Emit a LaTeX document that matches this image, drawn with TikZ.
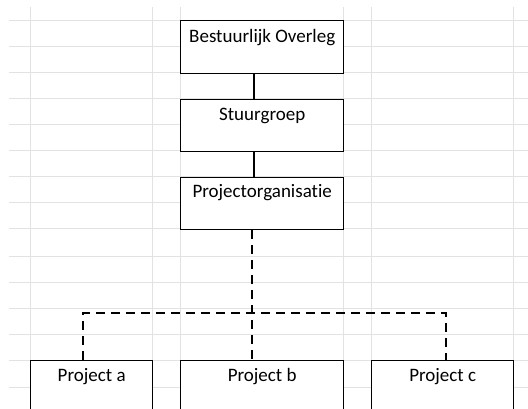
\documentclass[tikz,border=0pt]{standalone}
\usepackage{fontspec}
\setmainfont{Carlito}[Ligatures={NoCommon,NoRequired,NoContextual}]
\begin{document}
\begin{tikzpicture}[x=1pt,y=-1pt,
  grid/.style={draw=gridgray, line width=1pt},
  orgbox/.style={draw=black, fill=white, line width=1.4pt, rectangle, inner sep=0pt,
     text height=#1, font=\fontsize{19}{21}\selectfont},
  solidconn/.style={draw=black, line width=2.4pt},
  dashconn/.style={draw=black, line width=2.4pt, dash pattern=on 9pt off 6pt}]
\definecolor{gridgray}{HTML}{E2E2E2}
\useasboundingbox (0,0) rectangle (528,409);
\fill[white] (0,0) rectangle (528,409);
% spreadsheet grid
\foreach \gx in {30,152,180,343,371,513} \draw[grid] (\gx,7) -- (\gx,409);
\foreach \gy in {21,47,73,99,125,151,177,203,229,256,282,308,334,360,387} \draw[grid] (9,\gy) -- (528,\gy);
% boxes
\node[orgbox=22pt, text depth=31pt, minimum width=163pt, anchor=north west] (bo) at (180,20) {Bestuurlijk Overleg};
\node[orgbox=20.5pt, text depth=31.5pt, minimum width=163pt, anchor=north west] (sg) at (180,99) {Stuurgroep};
\node[orgbox=20pt, text depth=32pt, minimum width=163pt, anchor=north west] (po) at (180,177) {Projectorganisatie};
\node[orgbox=21pt, text depth=33pt, minimum width=122pt, anchor=north west] (pa) at (30,360) {Project a};
\node[orgbox=21pt, text depth=33pt, minimum width=163pt, anchor=north west] (pb) at (180,360) {Project b};
\node[orgbox=21pt, text depth=33pt, minimum width=142pt, anchor=north west] (pc) at (371,360) {Project c};
% connectors
\coordinate (sx) at (254,0);
\coordinate (dx) at (252,0);
\coordinate (ax) at (83,0);
\coordinate (cx) at (446,0);
\coordinate (bus) at (0,313);
\draw[solidconn] (bo.south -| sx) -- (sg.north -| sx);
\draw[solidconn] (sg.south -| sx) -- (po.north -| sx);
\draw[dashconn] (po.south -| dx) -- (pb.north -| dx);
\draw[dashconn] (pa.north -| ax) -- (bus -| ax) -- (bus -| cx) -- (pc.north -| cx);
\end{tikzpicture}
\end{document}
